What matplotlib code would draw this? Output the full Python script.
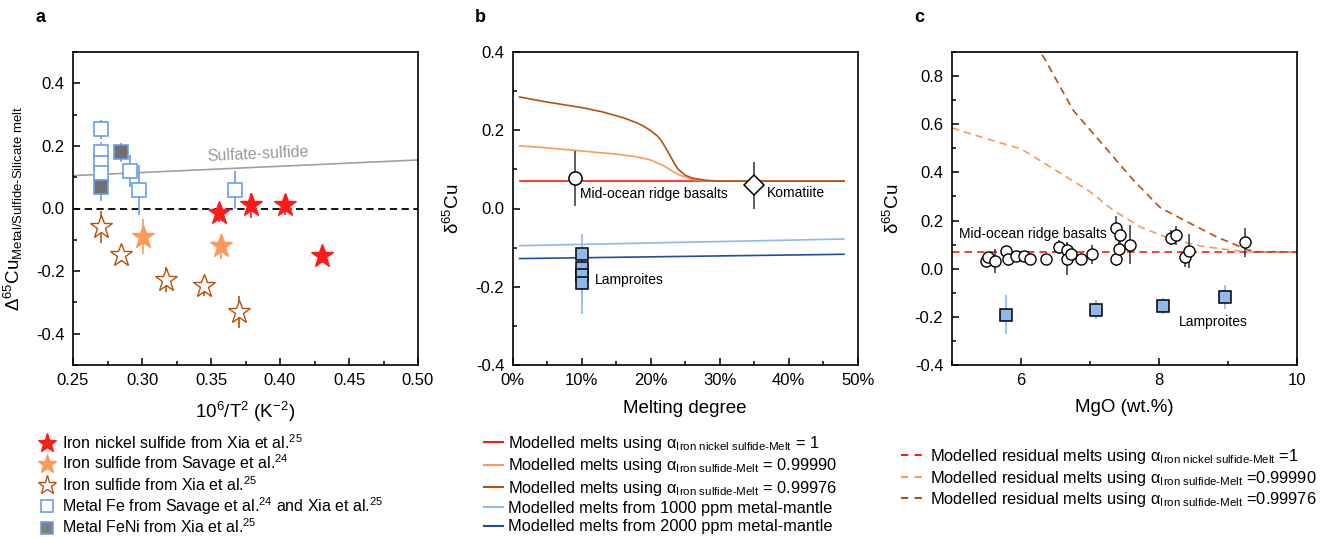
import matplotlib
matplotlib.use('Agg')
import matplotlib.pyplot as plt
from matplotlib.lines import Line2D
from matplotlib.ticker import MultipleLocator, PercentFormatter

plt.rcParams['font.family'] = ['Liberation Sans', 'DejaVu Sans']
plt.rcParams['mathtext.fontset'] = 'custom'
plt.rcParams['mathtext.rm'] = 'Liberation Sans'
plt.rcParams['mathtext.it'] = 'Liberation Sans:italic'
plt.rcParams['mathtext.bf'] = 'Liberation Sans:bold'
plt.rcParams['axes.unicode_minus'] = False

# ---- panel a data : 10^6/T^2 vs Delta65Cu
fens_x = [0.3556, 0.379, 0.4039, 0.4307]        # iron nickel sulfide, Xia
fens_y = [-0.013, 0.01, 0.01, -0.153]
fens_e = [0.03, 0.04, 0.03, 0.02]
fes_sav_x = [0.3007, 0.357]                      # iron sulfide, Savage
fes_sav_y = [-0.09, -0.12]
fes_sav_e = [0.055, 0.04]
fes_xia_x = [0.2705, 0.285, 0.3176, 0.3447, 0.3703]   # iron sulfide, Xia
fes_xia_y = [-0.059, -0.15, -0.227, -0.249, -0.331]
fes_xia_e = [0.05, 0.02, 0.04, 0.03, 0.05]
fe_x = [0.27, 0.27, 0.27, 0.27, 0.291, 0.2976, 0.3676]   # metal Fe
fe_y = [0.253, 0.181, 0.144, 0.112, 0.12, 0.06, 0.06]
fe_e = [0.03, 0.03, 0.03, 0.03, 0.05, 0.08, 0.06]
feni_x = [0.27, 0.2845]                          # metal FeNi
feni_y = [0.07, 0.18]
feni_e = [0.045, 0.03]
sulfate_x = [0.25, 0.50]
sulfate_y = [0.105, 0.155]

# ---- panel b data : melting degree vs d65Cu
melt_x_red = [0.01, 0.48]
melt_y_red = [0.07, 0.07]
melt_x_lo = [0.01, 0.05, 0.10, 0.15, 0.18, 0.20, 0.22, 0.23, 0.24, 0.25, 0.26, 0.28, 0.30, 0.48]
melt_y_lo = [0.160, 0.155, 0.147, 0.139, 0.132, 0.124, 0.108, 0.097, 0.087, 0.080, 0.075,
             0.071, 0.070, 0.070]
melt_x_br = [0.01, 0.05, 0.10, 0.13, 0.16, 0.18, 0.19, 0.20, 0.21, 0.215, 0.22, 0.225, 0.23,
             0.235, 0.24, 0.25, 0.26, 0.28, 0.30, 0.48]
melt_y_br = [0.285, 0.272, 0.258, 0.247, 0.232, 0.219, 0.210, 0.199, 0.185, 0.174, 0.160,
             0.145, 0.129, 0.113, 0.100, 0.085, 0.078, 0.072, 0.070, 0.070]
metal1000_x = [0.01, 0.48]
metal1000_y = [-0.095, -0.078]
metal2000_x = [0.01, 0.48]
metal2000_y = [-0.128, -0.117]
morb_b = (0.09, 0.077, 0.07)
komatiite_b = (0.35, 0.06, 0.06)
lamp_b_x = [0.10, 0.10, 0.10, 0.10]
lamp_b_y = [-0.116, -0.153, -0.170, -0.190]
lamp_b_e = [0.05, 0.05, 0.06, 0.08]

# ---- panel c data : MgO vs d65Cu
morb_mgo = [5.49, 5.53, 5.63, 5.79, 5.82, 5.93, 6.04, 6.14, 6.36, 6.55, 6.67, 6.67, 6.72,
            6.87, 7.03, 7.38, 7.38, 7.42, 7.44, 7.58, 8.17, 8.25, 8.38, 8.43, 9.24]
morb_cu = [0.032, 0.048, 0.032, 0.073, 0.042, 0.051, 0.051, 0.040, 0.040, 0.090, 0.076, 0.042,
           0.060, 0.040, 0.060, 0.170, 0.040, 0.083, 0.138, 0.100, 0.129, 0.138, 0.048, 0.073, 0.110]
morb_err = [0.02, 0.02, 0.05, 0.02, 0.03, 0.02, 0.02, 0.02, 0.02, 0.03, 0.03, 0.07, 0.03,
            0.02, 0.04, 0.05, 0.03, 0.04, 0.04, 0.08, 0.03, 0.04, 0.04, 0.07, 0.06]
lamp_mgo = [5.79, 7.09, 8.06, 8.95]
lamp_cu = [-0.191, -0.17, -0.155, -0.118]
lamp_err = [0.08, 0.04, 0.035, 0.05]
res_x_red = [5.0, 10.0]
res_y_red = [0.07, 0.07]
res_x_lo = [5.0, 5.5, 6.0, 6.5, 7.0, 7.34, 7.73, 8.12, 8.6, 9.08, 9.35, 10.0]
res_y_lo = [0.585, 0.54, 0.498, 0.41, 0.32, 0.242, 0.173, 0.129, 0.094, 0.076, 0.07, 0.07]
res_x_br = [6.2, 6.33, 6.76, 7.34, 7.63, 8.02, 8.41, 8.84, 9.28, 9.4, 10.0]
res_y_br = [0.93, 0.879, 0.657, 0.464, 0.367, 0.253, 0.194, 0.131, 0.079, 0.07, 0.07]

RED = '#ff1a1a'
LORANGE = '#fb9a5c'
BROWN = '#b5520f'
LBLUE = '#8fb8ec'
DBLUE = '#1d4f9e'
SQBLUE = '#6a9fe8'
TICK = 12
LAB = 13.5
LEG = 11.8

fig = plt.figure(figsize=(13.31, 5.37), dpi=100)
W, H = 1331.0, 537.0
axa = fig.add_axes([73 / W, 1 - 365 / H, 345 / W, 313 / H])
axb = fig.add_axes([512.7 / W, 1 - 365 / H, 345 / W, 313 / H])
axc = fig.add_axes([951.7 / W, 1 - 365 / H, 345.6 / W, 313 / H])

for ax in (axa, axb, axc):
    for s in ax.spines.values():
        s.set_linewidth(1.2)
    ax.tick_params(which='both', direction='in', top=False, right=False, labelsize=TICK, pad=6)
    ax.tick_params(which='major', length=5, width=1.1)
    ax.tick_params(which='minor', length=3, width=1.1)

# ---------------- panel a
axa.plot(sulfate_x, sulfate_y, color='#a0a0a0', lw=1.2, zorder=1)
axa.axhline(0, color='black', lw=1.3, dashes=(4, 2.5), zorder=1)
axa.text(0.384, 0.172, 'Sulfate-sulfide', color='#999999', fontsize=11.5, rotation=2.6,
         ha='center', va='center')
axa.errorbar(fe_x, fe_y, yerr=fe_e, fmt='none', ecolor=SQBLUE, elinewidth=1.2, zorder=2)
axa.plot(fe_x, fe_y, 's', ms=9.5, mfc='white', mec=SQBLUE, mew=1.2, zorder=3)
axa.errorbar(feni_x, feni_y, yerr=feni_e, fmt='none', ecolor=SQBLUE, elinewidth=1.2, zorder=2)
axa.plot(feni_x, feni_y, 's', ms=9.5, mfc='#707070', mec=SQBLUE, mew=1.2, zorder=3)
axa.errorbar(fes_xia_x, fes_xia_y, yerr=fes_xia_e, fmt='none', ecolor=BROWN, elinewidth=1.2, zorder=2)
axa.plot(fes_xia_x, fes_xia_y, '*', ms=17, mfc='white', mec=BROWN, mew=1.0, zorder=3)
axa.errorbar(fes_sav_x, fes_sav_y, yerr=fes_sav_e, fmt='none', ecolor=LORANGE, elinewidth=1.2, zorder=2)
axa.plot(fes_sav_x, fes_sav_y, '*', ms=17, mfc=LORANGE, mec=LORANGE, mew=1, zorder=3)
axa.errorbar(fens_x, fens_y, yerr=fens_e, fmt='none', ecolor=RED, elinewidth=1.2, zorder=2)
axa.plot(fens_x, fens_y, '*', ms=17, mfc=RED, mec=RED, mew=1, zorder=3)
axa.set_xlim(0.25, 0.50)
axa.set_ylim(-0.5, 0.5)
axa.xaxis.set_major_locator(MultipleLocator(0.05))
axa.xaxis.set_minor_locator(MultipleLocator(0.025))
axa.yaxis.set_major_locator(MultipleLocator(0.2))
axa.yaxis.set_minor_locator(MultipleLocator(0.1))
axa.xaxis.set_major_formatter(matplotlib.ticker.FormatStrFormatter('%.2f'))
axa.yaxis.set_major_formatter(matplotlib.ticker.FormatStrFormatter('%.1f'))
axa.set_xlabel(r'10$^{6}$/T$^{2}$ (K$^{-2}$)', fontsize=LAB)
axa.set_ylabel(r'$\mathregular{\Delta^{65}Cu_{Metal/Sulfide\text{-}Silicate\ melt}}$', fontsize=LAB)
axa.xaxis.set_label_coords(0.5, -0.112)
axa.yaxis.set_label_coords(-0.139, 0.5)

ha = [Line2D([], [], ls='none', marker='*', ms=14, mfc=RED, mec=RED),
      Line2D([], [], ls='none', marker='*', ms=14, mfc=LORANGE, mec=LORANGE),
      Line2D([], [], ls='none', marker='*', ms=14, mfc='white', mec=BROWN, mew=1.0),
      Line2D([], [], ls='none', marker='s', ms=9, mfc='white', mec=SQBLUE, mew=1.2),
      Line2D([], [], ls='none', marker='s', ms=9, mfc='#808080', mec=SQBLUE, mew=1.2)]
la = [r'Iron nickel sulfide from Xia et al.$^{25}$',
      r'Iron sulfide from Savage et al.$^{24}$',
      r'Iron sulfide from Xia et al.$^{25}$',
      r'Metal Fe from Savage et al.$^{24}$ and Xia et al.$^{25}$',
      r'Metal FeNi from Xia et al.$^{25}$']
axa.legend(ha, la, loc='upper left', bbox_to_anchor=(31 / W, 1 - 425 / H),
           bbox_transform=fig.transFigure, frameon=False, fontsize=11.5, borderpad=0,
           handlelength=1.0, handletextpad=0.45, labelspacing=0.06)

# ---------------- panel b
axb.plot(melt_x_red, melt_y_red, color=RED, lw=1.2, zorder=2)
axb.plot(melt_x_lo, melt_y_lo, color=LORANGE, lw=1.2, zorder=2)
axb.plot(melt_x_br, melt_y_br, color=BROWN, lw=1.2, zorder=2)
axb.plot(metal1000_x, metal1000_y, color=LBLUE, lw=1.2, zorder=2)
axb.plot(metal2000_x, metal2000_y, color=DBLUE, lw=1.2, zorder=2)
axb.errorbar([morb_b[0]], [morb_b[1]], yerr=[morb_b[2]], fmt='o', ms=9.5, mfc='white', mec='black',
             ecolor='#333333', elinewidth=1.1, mew=1.1, zorder=4)
axb.errorbar([komatiite_b[0]], [komatiite_b[1]], yerr=[komatiite_b[2]], fmt='D', ms=10, mfc='white',
             mec='black', ecolor='#333333', elinewidth=1.1, mew=1.1, zorder=4)
axb.errorbar(lamp_b_x, lamp_b_y, yerr=lamp_b_e, fmt='none', ecolor=LBLUE, elinewidth=1.2, zorder=3)
axb.plot(lamp_b_x, lamp_b_y, 's', ms=8.3, mfc=LBLUE, mec='black', mew=1.1, zorder=4)
axb.text(0.098, 0.037, 'Mid-ocean ridge basalts', fontsize=10, va='center')
axb.text(0.368, 0.04, 'Komatiite', fontsize=10, va='center')
axb.text(0.119, -0.183, 'Lamproites', fontsize=10, va='center')
axb.set_xlim(0, 0.5)
axb.set_ylim(-0.4, 0.4)
axb.xaxis.set_major_locator(MultipleLocator(0.1))
axb.xaxis.set_minor_locator(MultipleLocator(0.05))
axb.xaxis.set_major_formatter(PercentFormatter(xmax=1, decimals=0))
axb.yaxis.set_major_locator(MultipleLocator(0.2))
axb.yaxis.set_minor_locator(MultipleLocator(0.1))
axb.yaxis.set_major_formatter(matplotlib.ticker.FormatStrFormatter('%.1f'))
axb.set_xlabel('Melting degree', fontsize=LAB)
axb.set_ylabel(r'δ$^{65}$Cu', fontsize=LAB)
axb.xaxis.set_label_coords(0.5, -0.112)
axb.yaxis.set_label_coords(-0.144, 0.5)

hb = [Line2D([], [], color=c, lw=1.5) for c in (RED, LORANGE, BROWN, LBLUE, DBLUE)]
lb = [r'Modelled melts using $\mathregular{\alpha_{Iron\ nickel\ sulfide\text{-}Melt}}$ = 1',
      r'Modelled melts using $\mathregular{\alpha_{Iron\ sulfide\text{-}Melt}}$ = 0.99990',
      r'Modelled melts using $\mathregular{\alpha_{Iron\ sulfide\text{-}Melt}}$ = 0.99976',
      'Modelled melts from 1000 ppm metal-mantle',
      'Modelled melts from 2000 ppm metal-mantle']
axb.legend(hb, lb, loc='upper left', bbox_to_anchor=(476 / W, 1 - 426 / H),
           bbox_transform=fig.transFigure, frameon=False, fontsize=LEG, borderpad=0,
           handlelength=1.15, handletextpad=0.3, labelspacing=0.2)

# ---------------- panel c
axc.plot(res_x_red, res_y_red, color=RED, lw=1.2, dashes=(4.5, 3), zorder=2)
axc.plot(res_x_lo, res_y_lo, color=LORANGE, lw=1.2, dashes=(4.5, 3), zorder=2)
axc.plot(res_x_br, res_y_br, color=BROWN, lw=1.2, dashes=(4.5, 3), zorder=2)
axc.errorbar(morb_mgo, morb_cu, yerr=morb_err, fmt='none', ecolor='#333333', elinewidth=1.1, zorder=3)
axc.plot(morb_mgo, morb_cu, 'o', ms=8, mfc='white', mec='black', mew=1.0, zorder=4)
axc.errorbar(lamp_mgo, lamp_cu, yerr=lamp_err, fmt='none', ecolor=LBLUE, elinewidth=1.2, zorder=3)
axc.plot(lamp_mgo, lamp_cu, 's', ms=8.8, mfc=LBLUE, mec='black', mew=1.1, zorder=4)
axc.text(5.11, 0.145, 'Mid-ocean ridge basalts', fontsize=10, va='center', zorder=5)
axc.text(8.29, -0.22, 'Lamproites', fontsize=10, va='center')
axc.set_xlim(5, 10)
axc.set_ylim(-0.4, 0.9)
axc.xaxis.set_major_locator(MultipleLocator(2))
axc.xaxis.set_minor_locator(MultipleLocator(1))
axc.yaxis.set_major_locator(MultipleLocator(0.2))
axc.yaxis.set_minor_locator(MultipleLocator(0.1))
axc.yaxis.set_major_formatter(matplotlib.ticker.FormatStrFormatter('%.1f'))
axc.set_xlabel('MgO (wt.%)', fontsize=LAB)
axc.set_ylabel(r'δ$^{65}$Cu', fontsize=LAB)
axc.xaxis.set_label_coords(0.5, -0.11)
axc.yaxis.set_label_coords(-0.141, 0.5)

hc = [Line2D([], [], color=c, lw=1.5, dashes=(3.5, 3)) for c in (RED, LORANGE, BROWN)]
lc = [r'Modelled residual melts using $\mathregular{\alpha_{Iron\ nickel\ sulfide\text{-}Melt}}$ =1',
      r'Modelled residual melts using $\mathregular{\alpha_{Iron\ sulfide\text{-}Melt}}$ =0.99990',
      r'Modelled residual melts using $\mathregular{\alpha_{Iron\ sulfide\text{-}Melt}}$ =0.99976']
axc.legend(hc, lc, loc='upper left', bbox_to_anchor=(893 / W, 1 - 439 / H),
           bbox_transform=fig.transFigure, frameon=False, fontsize=LEG, borderpad=0,
           handlelength=1.5, handletextpad=0.25, labelspacing=0.15)

fig.text(36 / W, 1 - 18 / H, 'a', fontsize=13, fontweight='bold', va='center')
fig.text(475 / W, 1 - 18 / H, 'b', fontsize=13, fontweight='bold', va='center')
fig.text(914 / W, 1 - 18 / H, 'c', fontsize=13, fontweight='bold', va='center')

fig.savefig('out.png', dpi=100)
